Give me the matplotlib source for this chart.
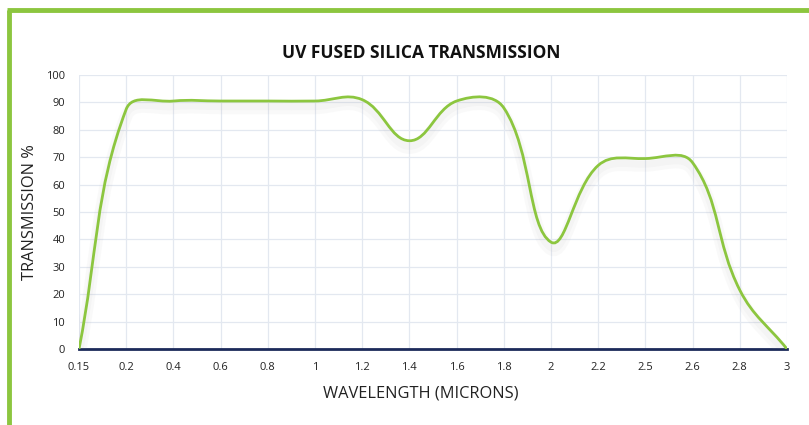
import matplotlib
matplotlib.use("Agg")
import matplotlib.pyplot as plt
import matplotlib.patheffects as pe
from matplotlib.path import Path
from matplotlib.patches import PathPatch
from matplotlib.lines import Line2D
import numpy as np

# data
wavelengths = ["0.15", "0.2", "0.4", "0.6", "0.8", "1", "1.2", "1.4", "1.6",
               "1.8", "2", "2.2", "2.5", "2.6", "2.8", "3"]
transmission = [0, 87.5, 90.5, 90.5, 90.5, 90.5, 91, 76, 90.5,
                88, 39, 67, 69.5, 68, 21.5, 0]
y_ticks = list(range(0, 101, 10))

GREEN = "#8cc63f"
NAVY = "#1c2a5a"
GRID = "#e3e8f0"

plt.rcParams["font.family"] = ["Open Sans", "DejaVu Sans"]

fig = plt.figure(figsize=(8.09, 4.25), dpi=100)
ax = fig.add_axes([79 / 809, 76 / 425, 708 / 809, 274 / 425])

xs = np.arange(len(wavelengths))
ys = np.array(transmission, dtype=float)


def smooth_path(x, y, tension=0.4, sx=47.2, sy=2.74):
    # chart.js style cubic bezier, control points computed in pixel space
    px, py = x * sx, y * sy
    n = len(px)
    verts = [(x[0], y[0])]
    codes = [Path.MOVETO]
    cp_next = []
    cp_prev = []
    for i in range(n):
        p0 = (px[max(i - 1, 0)], py[max(i - 1, 0)])
        p1 = (px[i], py[i])
        p2 = (px[min(i + 1, n - 1)], py[min(i + 1, n - 1)])
        d01 = np.hypot(p1[0] - p0[0], p1[1] - p0[1])
        d12 = np.hypot(p2[0] - p1[0], p2[1] - p1[1])
        tot = d01 + d12
        s01 = d01 / tot if tot else 0
        s12 = d12 / tot if tot else 0
        fa, fb = tension * s01, tension * s12
        cp_prev.append((p1[0] - fa * (p2[0] - p0[0]), p1[1] - fa * (p2[1] - p0[1])))
        cp_next.append((p1[0] + fb * (p2[0] - p0[0]), p1[1] + fb * (p2[1] - p0[1])))
    for i in range(n - 1):
        a = cp_next[i]
        b = cp_prev[i + 1]
        verts += [(a[0] / sx, a[1] / sy), (b[0] / sx, b[1] / sy), (x[i + 1], y[i + 1])]
        codes += [Path.CURVE4] * 3
    return Path(verts, codes)


curve = PathPatch(smooth_path(xs, ys), facecolor="none", edgecolor=GREEN, lw=2.0,
                  capstyle="round", zorder=4,
                  path_effects=[pe.SimpleLineShadow(offset=(0, -5), shadow_color="#999999",
                                                    alpha=0.05, linewidth=9),
                                pe.SimpleLineShadow(offset=(0, -4), shadow_color="#999999",
                                                    alpha=0.05, linewidth=5),
                                pe.Normal()])
ax.add_patch(curve)
ax.axhline(0, color=NAVY, lw=2.0, zorder=3, clip_on=False)

ax.set_xlim(0, len(wavelengths) - 1)
ax.set_ylim(0, 100)
ax.set_xticks(xs)
ax.set_xticklabels(wavelengths)
ax.set_yticks(y_ticks)
ax.grid(True, color=GRID, lw=0.9)
ax.set_axisbelow(True)
for s in ax.spines.values():
    s.set_visible(False)
ax.tick_params(length=0, labelsize=8, colors="#222222", pad=9)
ax.tick_params(axis="y", pad=10)

ax.set_title("UV FUSED SILICA TRANSMISSION", fontsize=12.5, fontweight="bold",
             color="#111111", pad=12, x=(421 - 79) / 708)
fig.text(421 / 809, 1 - 393 / 425, "WAVELENGTH (MICRONS)", fontsize=11.8,
         color="#222222", ha="center", va="center")
fig.text(30 / 809, 1 - 212 / 425, "TRANSMISSION %", fontsize=11.8, rotation=90,
         color="#222222", ha="center", va="center")

# green frame on top and left of the card
fig.add_artist(Line2D([9 / 809, 9 / 809], [0, 1 - 10 / 425], color=GREEN, lw=3.5,
                      transform=fig.transFigure, solid_capstyle="butt"))
fig.add_artist(Line2D([7.3 / 809, 1], [1 - 10 / 425, 1 - 10 / 425], color=GREEN, lw=3.5,
                      transform=fig.transFigure, solid_capstyle="butt"))

fig.savefig("out.png", dpi=100)
